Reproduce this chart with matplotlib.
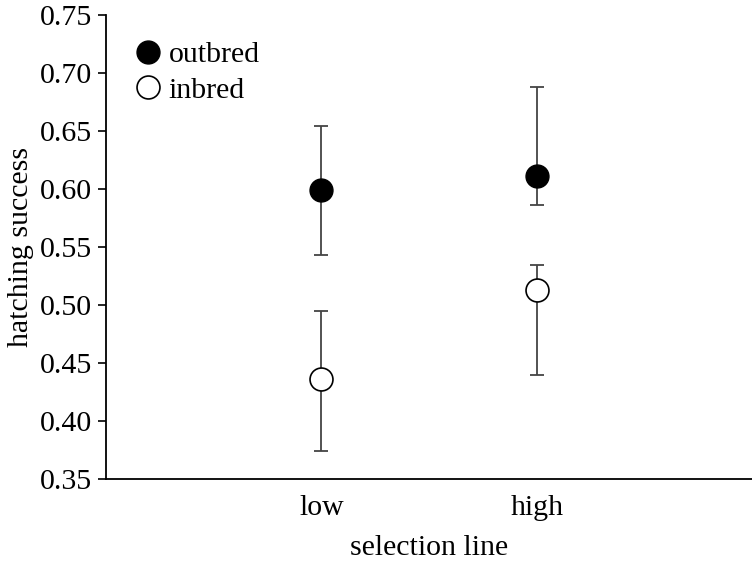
import numpy as np
import matplotlib.pyplot as plt

plt.rcParams['font.family'] = ['Liberation Serif', 'DejaVu Serif']

lines = ['low', 'high']
outbred = [0.599, 0.611]
outbred_lo = [0.543, 0.586]
outbred_hi = [0.654, 0.688]
inbred = [0.436, 0.513]
inbred_lo = [0.374, 0.439]
inbred_hi = [0.495, 0.534]

x = np.array([1, 2])

fig = plt.figure(figsize=(7.52, 5.61), dpi=100)
ax = fig.add_axes([0.141, 0.147, 0.859, 0.826])

err_out = [np.array(outbred) - np.array(outbred_lo), np.array(outbred_hi) - np.array(outbred)]
err_in = [np.array(inbred) - np.array(inbred_lo), np.array(inbred_hi) - np.array(inbred)]

ax.errorbar(x, outbred, yerr=err_out, fmt='none', ecolor='#444444', elinewidth=1.3,
            capsize=5, capthick=1.3, zorder=1)
ax.errorbar(x, inbred, yerr=err_in, fmt='none', ecolor='#444444', elinewidth=1.3,
            capsize=5, capthick=1.3, zorder=1)
ax.plot(x, outbred, 'o', ms=16.5, mfc='black', mec='black', ls='none', label='outbred', zorder=3)
ax.plot(x, inbred, 'o', ms=16.5, mfc='white', mec='black', mew=1.2, ls='none', label='inbred', zorder=3)

ax.set_xlim(0, 3)
ax.set_ylim(0.35, 0.75)
ax.set_yticks(np.arange(0.35, 0.751, 0.05))
ax.set_yticklabels(['%.2f' % v for v in np.arange(0.35, 0.751, 0.05)])
ax.set_xticks(x)
ax.set_xticklabels(lines)
ax.tick_params(axis='x', length=0, labelsize=21.5, pad=12)
ax.tick_params(axis='y', direction='out', length=6, width=1.2, labelsize=21.5, pad=4)
for s in ['top', 'right']:
    ax.spines[s].set_visible(False)
for s in ['left', 'bottom']:
    ax.spines[s].set_linewidth(1.3)

ax.set_xlabel('selection line', fontsize=21.5, labelpad=10)
ax.set_ylabel('hatching success', fontsize=21.5, labelpad=4)

ax.legend(loc='upper left', bbox_to_anchor=(0.046, 0.944), frameon=False, fontsize=21.5,
          handlelength=0.8, handletextpad=0.3, labelspacing=0.3, borderpad=0, borderaxespad=0)

fig.savefig('out.png', dpi=100)
